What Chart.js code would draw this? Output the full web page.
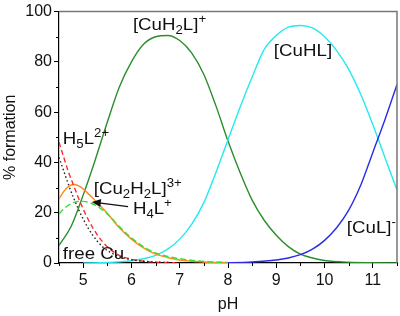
<!DOCTYPE html>
<html>
<head>
<meta charset="utf-8">
<script src="https://cdn.jsdelivr.net/npm/chart.js@4.4.0/dist/chart.umd.min.js"></script>
<style>
  html, body { margin: 0; padding: 0; background: #fff; }
  #box { width: 400px; height: 316px; }
</style>
</head>
<body>
<div id="box"><canvas id="myChart1"></canvas></div>
<script>
// valores (pH x % de formacao)
const phCuH2L = [4.5, 4.75, 5, 5.25, 5.5, 5.75, 6, 6.25, 6.5, 6.75, 7, 7.25, 7.5, 7.75, 8, 8.25, 8.5, 8.75, 9, 9.25, 9.5, 9.75, 10, 10.5, 11, 11.5];
const valCuH2L = [7, 14.5, 27, 41, 56, 70, 80, 87, 90, 90.5, 88.5, 83.5, 75, 62.5, 48.5, 36, 25, 17, 11, 6.5, 3.5, 2, 1, 0.3, 0.1, 0];

const phCuHL = [5, 5.5, 6, 6.25, 6.5, 6.75, 7, 7.25, 7.5, 7.75, 8, 8.25, 8.5, 8.75, 9, 9.25, 9.5, 9.75, 10, 10.25, 10.5, 10.75, 11, 11.25, 11.5];
const valCuHL = [0, 0.2, 0.9, 1.7, 3, 5.5, 9.5, 15.5, 24, 36, 49, 62, 74, 85, 90.5, 93.8, 94.5, 93.5, 90, 84.5, 77, 67, 55, 42, 29];

const phCuL = [7.5, 8, 8.5, 9, 9.25, 9.5, 9.75, 10, 10.25, 10.5, 10.75, 11, 11.25, 11.5];
const valCuL = [0, 0.1, 0.4, 1.2, 2, 3.3, 5.5, 9, 14, 21, 31, 44, 57, 71];

const phCu2H2L = [4.5, 4.6, 4.7, 4.8, 4.9, 5, 5.25, 5.5, 5.75, 6, 6.25, 6.5, 6.75, 7, 7.5, 8];
const valCu2H2L = [25.5, 28.5, 30.5, 31.2, 30.8, 29.5, 24.8, 19.8, 14, 9.5, 6, 3.5, 2.2, 1.2, 0.4, 0.1];

const phH4L = [4.5, 4.6, 4.7, 4.8, 4.9, 5, 5.25, 5.5, 5.75, 6, 6.25, 6.5, 6.75, 7, 7.5, 8];
const valH4L = [19.5, 21.5, 23, 24, 24.5, 24.5, 23, 19.5, 14.5, 10, 6.5, 4, 2.6, 1.7, 0.6, 0.2];

const phH5L = [4.5, 4.6, 4.7, 4.8, 4.9, 5, 5.1, 5.2, 5.3, 5.4, 5.5, 5.75, 6, 6.25, 6.5, 7];
const valH5L = [48, 42, 36, 31, 26, 21.5, 17.5, 14, 11, 8.5, 6.5, 3, 1.5, 0.7, 0.35, 0.1];

const phCuLivre = [4.5, 4.6, 4.7, 4.8, 4.9, 5, 5.1, 5.2, 5.3, 5.4, 5.5, 5.75, 6, 6.25, 6.5, 7];
const valCuLivre = [42, 36.5, 31, 26, 21.5, 17.5, 14, 11, 8.5, 6.5, 5, 2.5, 1.3, 0.7, 0.35, 0.1];

const ticksX = [5, 6, 7, 8, 9, 10, 11];
const ticksY = [0, 20, 40, 60, 80, 100];

// textos das especies: partes [texto, 0 normal / 1 subscrito / 2 sobrescrito] e ancora em (pH, %)
const anotacoes = [
    { partes: [['[CuH', 0], ['2', 1], ['L]', 0], ['+', 2]], ph: 6.03, pct: 92.5 },
    { partes: [['[CuHL]', 0]], ph: 8.95, pct: 82.4 },
    { partes: [['H', 0], ['5', 1], ['L', 0], ['2+', 2]], ph: 4.58, pct: 47.5 },
    { partes: [['[Cu', 0], ['2', 1], ['H', 0], ['2', 1], ['L]', 0], ['3+', 2]], ph: 5.22, pct: 27.5 },
    { partes: [['H', 0], ['4', 1], ['L', 0], ['+', 2]], ph: 6.03, pct: 19.6 },
    { partes: [['free Cu', 0]], ph: 4.58, pct: 1.6 },
    { partes: [['[CuL]', 0], ['-', 2]], ph: 10.46, pct: 11.8 }
];
const seta = { de: [5.93, 22.4], para: [5.18, 24.3] };

const fonte = "'Liberation Sans', Arial, sans-serif";

function pontos(ph, val) {
    return ph.map((p, i) => ({ x: p, y: val[i] }));
}

function serie(nome, ph, val, cor, tracejado) {
    return {
        label: nome,
        data: pontos(ph, val),
        borderColor: cor,
        backgroundColor: cor,
        borderWidth: 1.4,
        borderDash: tracejado || [],
        pointRadius: 0,
        cubicInterpolationMode: 'monotone',
        fill: false
    };
}

// desenha texto com sub/sobrescrito (um pouco esticado na horizontal, como na figura)
function textoRico(ctx, partes, x, y) {
    ctx.save();
    ctx.translate(x, y);
    ctx.scale(1.1, 1);
    let cx = 0;
    partes.forEach(([t, tipo]) => {
        let dy = 0;
        if (tipo === 0) ctx.font = '17px ' + fonte;
        else ctx.font = '12px ' + fonte;
        if (tipo === 1) dy = 4;
        if (tipo === 2) dy = -7;
        ctx.fillText(t, cx, dy);
        cx += ctx.measureText(t).width;
    });
    ctx.restore();
}

const extras = {
    id: 'extras',
    afterDraw(chart) {
        const ctx = chart.ctx;
        const a = chart.chartArea;
        const sx = chart.scales.x;
        const sy = chart.scales.y;
        ctx.save();
        // moldura cinza em cima e na direita
        ctx.strokeStyle = '#777';
        ctx.lineWidth = 1.5;
        ctx.beginPath();
        ctx.moveTo(a.left, a.top);
        ctx.lineTo(a.right, a.top);
        ctx.lineTo(a.right, a.bottom);
        ctx.stroke();

        // ticks menores
        ctx.strokeStyle = '#000';
        ctx.lineWidth = 1;
        ctx.beginPath();
        for (let p = 4.5; p <= 11.5; p += 1) {
            const px = Math.round(sx.getPixelForValue(p)) + 0.5;
            ctx.moveTo(px, a.bottom);
            ctx.lineTo(px, a.bottom + 3);
        }
        for (let v = 10; v < 100; v += 20) {
            const py = Math.round(sy.getPixelForValue(v)) + 0.5;
            ctx.moveTo(a.left, py);
            ctx.lineTo(a.left - 3, py);
        }
        ctx.stroke();

        // textos
        ctx.fillStyle = '#111';
        ctx.textBaseline = 'alphabetic';
        ctx.textAlign = 'left';
        anotacoes.forEach(n => {
            textoRico(ctx, n.partes, sx.getPixelForValue(n.ph), sy.getPixelForValue(n.pct));
        });

        // seta
        const x1 = sx.getPixelForValue(seta.de[0]), y1 = sy.getPixelForValue(seta.de[1]);
        const x2 = sx.getPixelForValue(seta.para[0]), y2 = sy.getPixelForValue(seta.para[1]);
        const ang = Math.atan2(y2 - y1, x2 - x1);
        ctx.strokeStyle = '#111';
        ctx.lineWidth = 1.2;
        ctx.beginPath();
        ctx.moveTo(x1, y1);
        ctx.lineTo(x2 - 7 * Math.cos(ang), y2 - 7 * Math.sin(ang));
        ctx.stroke();
        ctx.beginPath();
        ctx.moveTo(x2, y2);
        ctx.lineTo(x2 - 9 * Math.cos(ang) + 4 * Math.sin(ang), y2 - 9 * Math.sin(ang) - 4 * Math.cos(ang));
        ctx.lineTo(x2 - 9 * Math.cos(ang) - 4 * Math.sin(ang), y2 - 9 * Math.sin(ang) + 4 * Math.cos(ang));
        ctx.closePath();
        ctx.fill();
        ctx.restore();
    }
};

const dados = {
    datasets: [
        serie('free Cu', phCuLivre, valCuLivre, '#222222', [1.5, 2.5]),
        serie('H5L2+', phH5L, valH5L, '#ff2a2a', [5, 3]),
        serie('H4L+', phH4L, valH4L, '#33e033', [6, 3]),
        serie('[Cu2H2L]3+', phCu2H2L, valCu2H2L, '#ff8c1a'),
        serie('[CuL]-', phCuL, valCuL, '#2a2ae8'),
        serie('[CuHL]', phCuHL, valCuHL, '#22eaee'),
        serie('[CuH2L]+', phCuH2L, valCuH2L, '#2a8f2a')
    ]
};

const config = {
    type: 'line',
    data: dados,
    options: {
        responsive: true,
        maintainAspectRatio: false,
        animation: false,
        layout: { padding: { left: 0, right: 3, top: 8, bottom: 0 } },
        plugins: { legend: { display: false }, tooltip: { enabled: false } },
        scales: {
            x: {
                type: 'linear',
                min: 4.5,
                max: 11.5,
                afterBuildTicks: s => { s.ticks = ticksX.map(v => ({ value: v })); },
                afterFit: s => { s.height = 53; },
                grid: { drawOnChartArea: false, tickLength: 5, color: '#000' },
                border: { color: '#000', width: 1.2 },
                ticks: { color: '#111', font: { family: fonte, size: 16 }, padding: 3, maxRotation: 0 },
                title: { display: true, text: 'pH', color: '#111', font: { family: fonte, size: 16 }, padding: { top: 4, bottom: 2 } }
            },
            y: {
                min: 0,
                max: 100,
                afterBuildTicks: s => { s.ticks = ticksY.map(v => ({ value: v })); },
                afterFit: s => { s.width = 59; },
                grid: { drawOnChartArea: false, tickLength: 5, color: '#000' },
                border: { color: '#000', width: 1.2 },
                ticks: { color: '#111', font: { family: fonte, size: 16 }, padding: 2 },
                title: { display: true, text: '% formation', color: '#111', font: { family: fonte, size: 16 }, padding: { top: 1, bottom: 0 } }
            }
        }
    },
    plugins: [extras]
};

let myChart = new Chart(document.getElementById('myChart1'), config);
</script>
</body>
</html>
